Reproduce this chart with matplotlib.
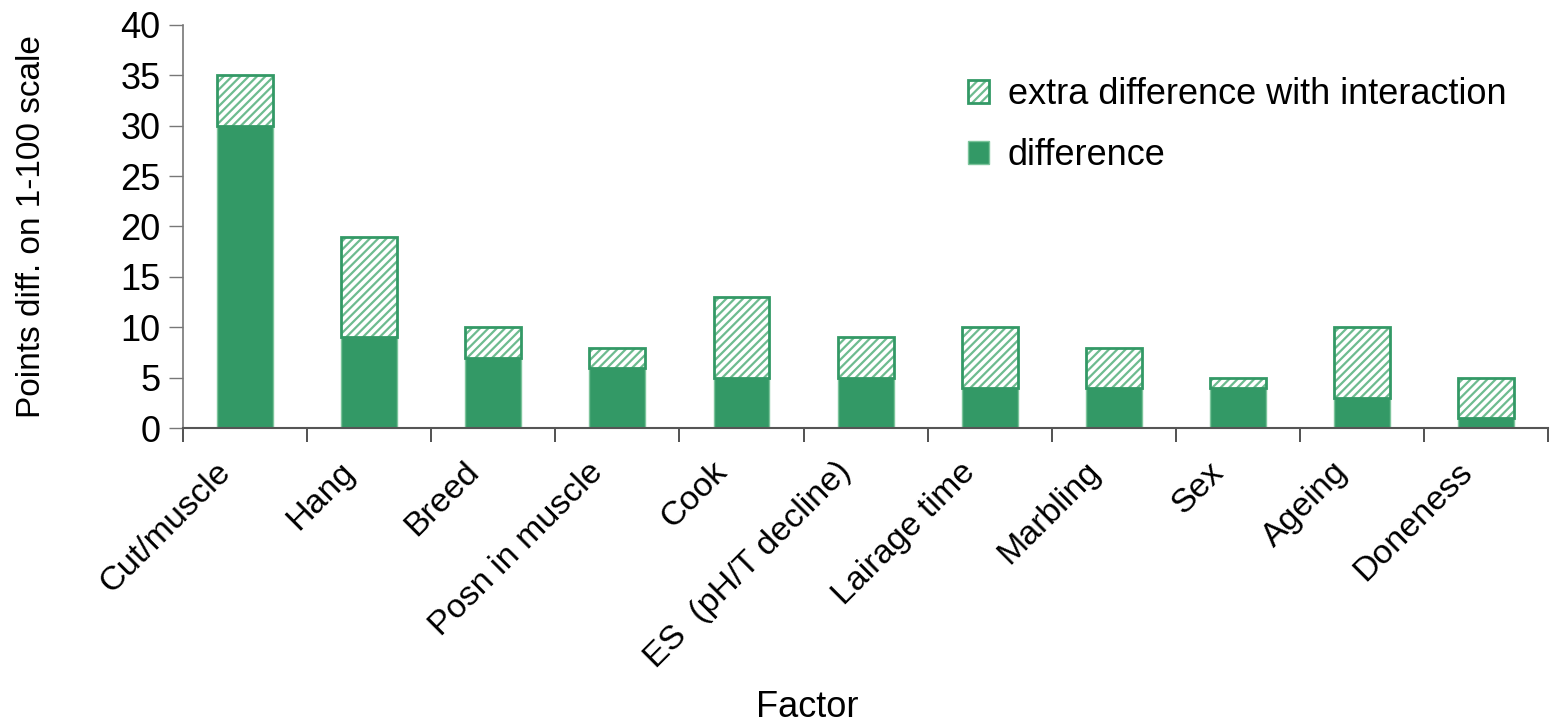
import numpy as np
import matplotlib
matplotlib.use("Agg")
import matplotlib.pyplot as plt
from matplotlib.transforms import ScaledTranslation

matplotlib.rcParams.update({
    "font.family": ["Liberation Sans", "DejaVu Sans"],
    "font.size": 26,
    "hatch.linewidth": 1.6,
})

factors = ["Cut/muscle", "Hang", "Breed", "Posn in muscle", "Cook",
           "ES  (pH/T decline)", "Lairage time", "Marbling", "Sex",
           "Ageing", "Doneness"]
difference = [30, 9, 7, 6, 5, 5, 4, 4, 4, 3, 1]
extra_with_interaction = [5, 10, 3, 2, 8, 4, 6, 4, 1, 7, 4]

GREEN = "#339966"
HATCH_GREEN = "#6dbb8f"

fig = plt.figure(figsize=(15.5, 7.27), dpi=100)
ax = fig.add_axes([0.118, 0.411, 0.881, 0.555])

x = np.arange(len(factors))
width = 0.45

base = ax.bar(x, difference, width=width, color=GREEN, edgecolor="#7cc49b",
              linewidth=1.0, zorder=2)

# hatched segment on top of the base difference, outlined separately
hatched = ax.bar(x, extra_with_interaction, width=width, bottom=difference,
                 facecolor="white", edgecolor=HATCH_GREEN, hatch="////",
                 linewidth=0, zorder=2)
outline = ax.bar(x, extra_with_interaction, width=width, bottom=difference,
                 facecolor="none", edgecolor=GREEN, linewidth=2.0, zorder=3)

ax.set_xlim(-0.5, len(factors) - 0.5)
ax.set_ylim(0, 40)
ax.set_yticks(np.arange(0, 41, 5))

# category names drawn as rotated text just under each bar
ax.set_xticks(x)
ax.set_xticklabels([])
ax.tick_params(axis="x", which="major", length=0)
label_tr = ax.get_xaxis_transform() + ScaledTranslation(-0.30, -0.28, fig.dpi_scale_trans)
for xi, name in zip(x, factors):
    ax.text(xi, 0, name, transform=label_tr, rotation=45, ha="right", va="top",
            rotation_mode="anchor", fontsize=24.5)

ax.set_xticks(np.arange(-0.5, len(factors)), minor=True)
ax.tick_params(axis="x", which="minor", length=10, width=1.2, color="#333333")
ax.tick_params(axis="y", length=10, width=1.0, color="#777777", pad=6)

for side in ["top", "right"]:
    ax.spines[side].set_visible(False)
ax.spines["left"].set_color("#777777")
ax.spines["bottom"].set_color("#555555")
ax.spines["left"].set_linewidth(1.2)
ax.spines["bottom"].set_linewidth(1.5)

ax.set_ylabel("Points diff. on 1-100 scale", fontsize=24, labelpad=53)
fig.text(0.521, 0.027, "Factor", ha="center", va="center", fontsize=26)

ax.legend([(hatched[0], outline[0]), base[0]],
          ["extra difference with interaction", "difference"],
          loc="upper left", bbox_to_anchor=(0.551, 0.95), frameon=False,
          handlelength=0.6, handleheight=0.6, handletextpad=0.5,
          labelspacing=0.72)

fig.savefig("out.png", dpi=100)
